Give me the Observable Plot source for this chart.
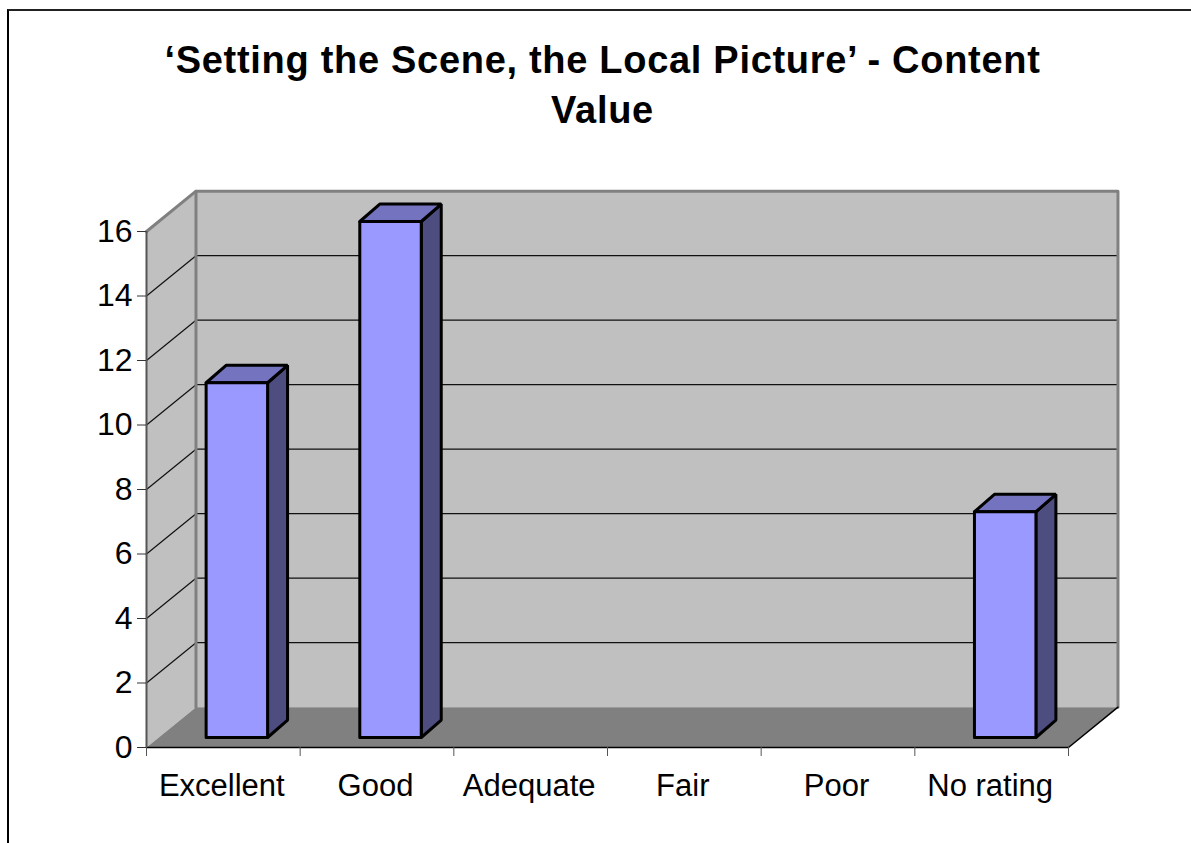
<!DOCTYPE html>
<html>
<head>
<meta charset="utf-8">
<script src="https://cdn.jsdelivr.net/npm/d3@7"></script>
<script src="https://cdn.jsdelivr.net/npm/@observablehq/plot@0.6"></script>
<style>
  html, body { margin: 0; padding: 0; background: #fff; overflow: hidden; }
  #page { position: relative; width: 1191px; height: 843px; font-family: "Liberation Sans", Arial, sans-serif; }
  #frame { position: absolute; left: 7px; top: 9px; width: 1184px; height: 834px; box-sizing: border-box; border-left: 2px solid #000; border-top: 2px solid #222; }
  #title { position: relative; box-sizing: border-box; height: 160px; padding-top: 35px; width: 1205px; text-align: center; font-size: 38px; line-height: 50px; font-weight: bold; color: #000; letter-spacing: 0.7px; }
  svg { display: block; position: relative; }
</style>
</head>
<body>
<div id="page">
  <div id="frame"></div>
  <div id="title">‘Setting the Scene, the Local Picture’ - Content<br>Value</div>
</div>
<script>
const categories = ["Excellent", "Good", "Adequate", "Fair", "Poor", "No rating"];
const values = [11, 16, 0, 0, 0, 7];
const yTicks = [0, 2, 4, 6, 8, 10, 12, 14, 16];

// Depth of the 3D box and of each column, in data units of the x and y scales
const depthX = 0.322, depthY = 1.25;
const barDepthX = 0.13, barDepthY = 0.54;
const barStart = 0.388, barWidth = 0.4, barBase = 0.31;
const n = categories.length, yMax = d3.max(yTicks);

const poly = (pts, o) => Plot.line(pts, {x: d => d[0], y: d => d[1], stroke: "none", ...o});

const marks = [
  // back wall
  poly([[depthX, depthY], [n + depthX, depthY], [n + depthX, yMax + depthY], [depthX, yMax + depthY], [depthX, depthY]], {fill: "#C0C0C0"}),
  // side wall
  poly([[0, 0], [depthX, depthY], [depthX, yMax + depthY], [0, yMax], [0, 0]], {fill: "#C0C0C0"}),
  // floor
  poly([[0, 0], [n, 0], [n + depthX, depthY], [depthX, depthY], [0, 0]], {fill: "#808080"})
];

// grid lines round the wall
for (const t of yTicks.slice(1, -1)) {
  marks.push(poly([[0, t], [depthX, t + depthY], [n + depthX, t + depthY]], {stroke: "#111", strokeWidth: 1.2}));
}

// wall outlines
marks.push(
  poly([[0, yMax], [depthX, yMax + depthY], [n + depthX, yMax + depthY], [n + depthX, depthY]], {stroke: "#808080", strokeWidth: 3}),
  poly([[depthX, yMax + depthY], [depthX, depthY]], {stroke: "#808080", strokeWidth: 3}),
  poly([[0, 0], [n, 0], [n + depthX, depthY]], {stroke: "#000", strokeWidth: 1.5})
);

// columns
values.forEach((v, i) => {
  if (!v) return;
  const x0 = i + barStart, x1 = x0 + barWidth, y0 = barBase, y1 = barBase + v;
  const style = {stroke: "#000", strokeWidth: 3, strokeLinejoin: "miter"};
  marks.push(
    poly([[x1, y0], [x1 + barDepthX, y0 + barDepthY], [x1 + barDepthX, y1 + barDepthY], [x1, y1], [x1, y0]], {fill: "#4D4D80", ...style}),
    poly([[x0, y1], [x0 + barDepthX, y1 + barDepthY], [x1 + barDepthX, y1 + barDepthY], [x1, y1], [x0, y1]], {fill: "#7373BF", ...style}),
    poly([[x0, y0], [x1, y0], [x1, y1], [x0, y1], [x0, y0]], {fill: "#9999FF", ...style})
  );
});

// axes
marks.push(
  Plot.ruleX([0], {y1: 0, y2: yMax, stroke: "#555", strokeWidth: 2}),
  Plot.axisY({ticks: yTicks, tickSize: 9, tickPadding: 5, fontSize: 32, tickFormat: d => d, stroke: "#333", fill: "#000"}),
  Plot.axisX({ticks: d3.range(n + 1), tickSize: 9, tickFormat: () => "", stroke: "#555"}),
  Plot.axisX({ticks: categories.map((c, i) => i + 0.49), tickSize: 0, tickPadding: 26, fontSize: 31, fill: "#000",
    tickFormat: d => categories[Math.floor(d)]})
);

const chart = Plot.plot({
  width: 1191,
  height: 683,
  marginLeft: 146,
  marginRight: 123,
  marginTop: 71,
  marginBottom: 96,
  style: {fontFamily: '"Liberation Sans", Arial, sans-serif', fontSize: "31px", background: "transparent", overflow: "visible"},
  x: {domain: [0, n], label: null},
  y: {domain: [0, yMax], label: null},
  marks
});
document.getElementById("page").appendChild(chart);
</script>
</body>
</html>
